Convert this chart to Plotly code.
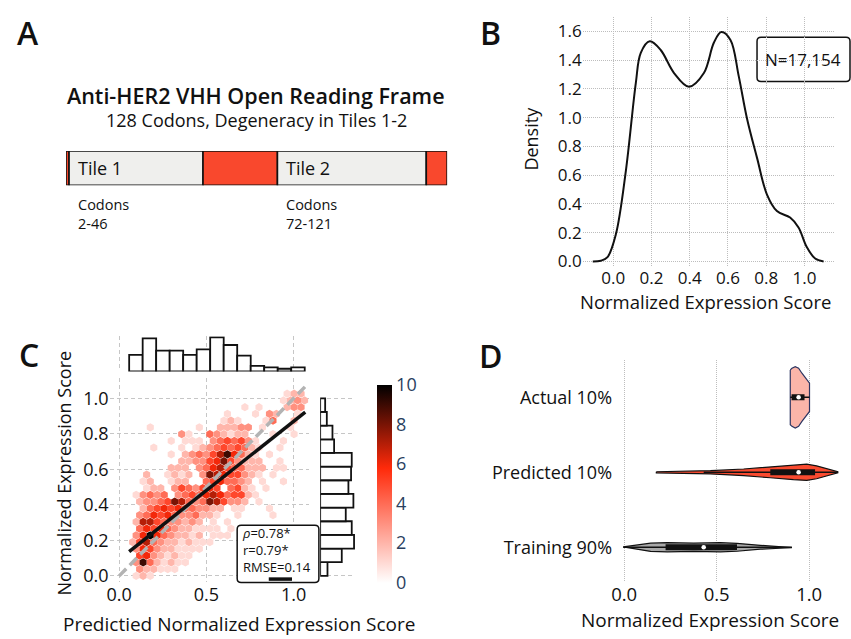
import plotly.graph_objects as go

W, H = 851, 639
def fx(p): return p / W
def fy(p): return 1 - p / H

FONT = "Open Sans"
INK = "#111111"

# ---------------- Panel A data ----------------
seg_start = [0, 1, 46, 71, 121]
seg_end = [1, 46, 71, 121, 128]
seg_color = ["#F9482D", "#EFEFED", "#F9482D", "#EFEFED", "#F9482D"]
tile_names = ["Tile 1", "Tile 2"]
tile_first = [1, 71]
tile_codons = ["2-46", "72-121"]
orf_title = "Anti-HER2 VHH Open Reading Frame"
orf_sub = "128 Codons, Degeneracy in Tiles 1-2"

# ---------------- Panel B data ----------------
kde_x = [-0.107, -0.065, -0.03, 0.014, 0.066, 0.118, 0.144, 0.191, 0.248, 0.318, 0.396,
         0.474, 0.526, 0.565, 0.613, 0.656, 0.70, 0.752, 0.804, 0.856, 0.925, 0.969,
         1.012, 1.056, 1.10]
kde_y = [0.0, 0.005, 0.03, 0.19, 0.63, 1.24, 1.45, 1.53, 1.47, 1.31, 1.215,
         1.31, 1.52, 1.595, 1.54, 1.29, 0.99, 0.72, 0.465, 0.35, 0.305, 0.236,
         0.10, 0.02, 0.0]
n_label = "N=17,154"

# ---------------- Panel C data ----------------
# hexbin rows: (actual score, predicted-score centres, counts)
hex_rows = [
    (0.000, [0.097, 0.137, 0.178], [1, 2, 1]),
    (0.038, [0.117, 0.157, 0.198, 0.238, 0.278, 0.318], [3, 2, 2, 1, 1, 1]),
    (0.076, [0.097, 0.137, 0.178, 0.218, 0.258, 0.298, 0.338, 0.379], [3, 9, 4, 2, 1, 2, 1, 1]),
    (0.114, [0.117, 0.157, 0.198, 0.238, 0.278, 0.318, 0.358, 0.399], [5, 6, 3, 2, 1, 2, 1, 1]),
    (0.152, [0.097, 0.137, 0.178, 0.218, 0.258, 0.298, 0.338, 0.379, 0.419, 0.459],
     [3, 6, 5, 3, 2, 2, 1, 1, 1, 1]),
    (0.190, [0.077, 0.117, 0.157, 0.198, 0.238, 0.278, 0.318, 0.358, 0.399, 0.439, 0.479, 0.519],
     [2, 5, 7, 4, 3, 2, 2, 1, 2, 1, 1, 1]),
    (0.228, [0.097, 0.137, 0.178, 0.218, 0.258, 0.298, 0.338, 0.379, 0.419, 0.459, 0.539, 0.580, 0.620],
     [3, 6, 10, 6, 4, 3, 2, 2, 1, 2, 1, 1, 1]),
    (0.266, [0.117, 0.157, 0.198, 0.238, 0.278, 0.318, 0.358, 0.399, 0.439, 0.479, 0.519, 0.560, 0.640],
     [4, 6, 5, 6, 4, 3, 2, 2, 1, 1, 1, 1, 1]),
    (0.304, [0.097, 0.137, 0.178, 0.218, 0.258, 0.298, 0.338, 0.379, 0.419, 0.459, 0.539, 0.620],
     [2, 7, 7, 5, 4, 3, 3, 2, 3, 2, 1, 1]),
    (0.342, [0.117, 0.157, 0.198, 0.238, 0.278, 0.318, 0.358, 0.399, 0.439, 0.479, 0.519, 0.560, 0.680, 0.881],
     [3, 4, 6, 5, 6, 4, 3, 3, 4, 2, 2, 1, 1, 1]),
    (0.380, [0.137, 0.178, 0.218, 0.258, 0.298, 0.338, 0.379, 0.419, 0.459, 0.499, 0.539, 0.580, 0.660, 0.700, 0.861],
     [2, 4, 5, 6, 5, 6, 4, 4, 3, 3, 2, 2, 1, 1, 1]),
    (0.418, [0.117, 0.157, 0.198, 0.238, 0.278, 0.318, 0.358, 0.399, 0.439, 0.479, 0.519, 0.560, 0.600, 0.640, 0.680, 0.720, 0.801],
     [2, 3, 3, 4, 5, 8, 7, 4, 3, 4, 8, 7, 5, 3, 3, 2, 1]),
    (0.456, [0.097, 0.137, 0.178, 0.218, 0.258, 0.338, 0.379, 0.419, 0.459, 0.499, 0.539, 0.580, 0.620, 0.660, 0.700, 0.740, 0.781],
     [1, 3, 4, 3, 4, 3, 4, 5, 4, 6, 7, 6, 4, 5, 5, 2, 1]),
    (0.494, [0.157, 0.198, 0.238, 0.318, 0.358, 0.399, 0.439, 0.479, 0.519, 0.560, 0.640, 0.680, 0.720, 0.761, 0.841],
     [1, 2, 2, 3, 5, 4, 3, 5, 6, 5, 4, 5, 2, 1, 1]),
    (0.532, [0.137, 0.178, 0.298, 0.338, 0.379, 0.499, 0.539, 0.580, 0.620, 0.660, 0.700, 0.740, 0.821, 0.941],
     [1, 2, 1, 2, 2, 4, 5, 6, 4, 4, 3, 2, 1, 1]),
    (0.570, [0.157, 0.278, 0.318, 0.358, 0.399, 0.479, 0.519, 0.560, 0.600, 0.640, 0.680, 0.720, 0.761, 0.801, 0.881],
     [2, 1, 2, 1, 2, 3, 8, 7, 6, 5, 5, 3, 2, 1, 1]),
    (0.608, [0.298, 0.338, 0.379, 0.459, 0.499, 0.539, 0.580, 0.620, 0.660, 0.700, 0.740, 0.781, 0.821, 0.901, 0.941],
     [2, 2, 2, 3, 4, 6, 7, 5, 4, 4, 2, 2, 2, 1, 1]),
    (0.646, [0.358, 0.399, 0.439, 0.479, 0.519, 0.560, 0.600, 0.640, 0.680, 0.720, 0.761, 0.801, 0.921],
     [2, 2, 3, 3, 5, 6, 8, 5, 3, 2, 2, 2, 1]),
    (0.684, [0.298, 0.379, 0.419, 0.459, 0.499, 0.539, 0.580, 0.620, 0.660, 0.700, 0.740, 0.781, 0.861],
     [1, 2, 3, 4, 3, 5, 7, 9, 6, 4, 2, 1, 1]),
    (0.722, [0.198, 0.358, 0.439, 0.479, 0.519, 0.560, 0.600, 0.640, 0.680, 0.720, 0.761, 0.801, 0.921],
     [1, 1, 1, 2, 3, 4, 5, 4, 5, 4, 2, 1, 1]),
    (0.760, [0.298, 0.379, 0.419, 0.459, 0.539, 0.580, 0.620, 0.660, 0.700, 0.740, 0.781, 0.941],
     [1, 1, 1, 1, 3, 4, 5, 4, 5, 3, 1, 1]),
    (0.798, [0.358, 0.399, 0.519, 0.560, 0.600, 0.640, 0.680, 0.720, 0.881, 1.002],
     [3, 1, 4, 3, 2, 1, 2, 2, 1, 1]),
    (0.836, [0.178, 0.459, 0.580, 0.620, 0.660, 0.700, 0.740, 0.821, 0.982],
     [1, 1, 2, 2, 2, 3, 3, 1, 1]),
    (0.874, [0.600, 0.640, 0.680, 0.841, 0.881, 1.002], [1, 2, 1, 1, 4, 2]),
    (0.912, [0.620, 0.781, 0.861, 0.901, 1.022], [1, 1, 3, 2, 1]),
    (0.950, [0.720, 0.801, 0.962, 1.002, 1.042], [1, 1, 2, 3, 3]),
    (0.988, [0.941, 0.982, 1.022, 1.062], [1, 2, 3, 2]),
    (1.026, [0.962, 1.002, 1.042], [1, 2, 2]),
]
fit_x = [0.057, 1.066]
fit_y = [0.137, 0.922]
ident_xy = [0.0, 1.07]
top_hist_lo, top_hist_hi = 0.057, 1.063
top_hist_counts = [50, 100, 63, 63, 50, 67, 103, 80, 48, 17, 12, 8, 12]
right_hist_lo, right_hist_hi = 0.0, 1.0
right_hist_counts = [22, 65, 102, 95, 77, 100, 85, 93, 95, 42, 37, 20, 15]
stats_lines = ["<i>ρ</i>=0.78*", "r=0.79*", "RMSE=0.14"]

# ---------------- Panel D data ----------------
violin_names = ["Training 90%", "Predicted 10%", "Actual 10%"]
violin_fill = ["#A9A9A9", "#F94A2F", "#FBB5A9"]
violin_edge = ["#111111", "#111111", "#2D3561"]
train_x = [-0.005, 0.071, 0.143, 0.233, 0.377, 0.52, 0.61, 0.736, 0.843, 0.907]
train_hw = [0.004, 0.029, 0.055, 0.061, 0.054, 0.061, 0.053, 0.026, 0.013, 0.004]
pred_x = [0.174, 0.30, 0.467, 0.646, 0.79, 0.915, 0.987, 1.04, 1.096, 1.155]
pred_hw = [0.007, 0.011, 0.022, 0.044, 0.073, 0.099, 0.108, 0.086, 0.05, 0.007]
act_x = [0.898, 0.907, 0.925, 0.943, 0.961, 0.987, 1.002]
act_hw = [0.365, 0.387, 0.409, 0.387, 0.321, 0.234, 0.189]
box_q1 = [0.224, 0.79, 0.905]
box_q3 = [0.61, 1.032, 0.975]
box_med = [0.43, 0.943, 0.943]
whisk_lo = [-0.005, 0.43, 0.898]
whisk_hi = [0.907, 1.155, 1.002]

# ======================================================
fig = go.Figure()

# Panel A bars
fig.add_trace(go.Bar(
    orientation="h", y=[0] * len(seg_start),
    x=[e - s for s, e in zip(seg_start, seg_end)], base=seg_start,
    width=1, marker=dict(color=seg_color, line=dict(color=INK, width=1.6)),
    xaxis="x6", yaxis="y6", showlegend=False, hoverinfo="skip"))

# Panel B KDE
fig.add_trace(go.Scatter(x=kde_x, y=kde_y, mode="lines", line=dict(color=INK, width=2, shape="spline"),
                         xaxis="x", yaxis="y", showlegend=False))

# Panel C hexbin
hx, hy, hn = [], [], []
for yv, xs, ns in hex_rows:
    for xv, n in zip(xs, ns):
        hx.append(xv); hy.append(yv); hn.append(n)
fig.add_trace(go.Scatter(
    x=hx, y=hy, mode="markers", xaxis="x2", yaxis="y2", showlegend=False,
    marker=dict(symbol="hexagon", size=8.2, color=hn, cmin=0, cmax=10,
                colorscale=[[0, "#ffffff"], [0.58, "#ff2a0a"], [1, "#000000"]],
                line=dict(width=0), showscale=True,
                colorbar=dict(x=fx(375), xanchor="left", y=fy(489), yanchor="middle",
                              len=200 / H, lenmode="fraction", thickness=15, outlinewidth=0,
                              tickvals=[0, 2, 4, 6, 8, 10], ticks="", xpad=0, ypad=0,
                              tickfont=dict(family=FONT, size=18, color="#2a3f5f")))))
fig.add_trace(go.Scatter(x=ident_xy, y=ident_xy, mode="lines", xaxis="x2", yaxis="y2",
                         line=dict(color="#b3b3b3", width=3.5, dash="10px,5px"), showlegend=False))
fig.add_trace(go.Scatter(x=fit_x, y=fit_y, mode="lines", xaxis="x2", yaxis="y2",
                         line=dict(color=INK, width=3.5), showlegend=False))

tw = (top_hist_hi - top_hist_lo) / len(top_hist_counts)
fig.add_trace(go.Bar(x=[top_hist_lo + (i + 0.5) * tw for i in range(len(top_hist_counts))],
                     y=top_hist_counts, width=tw, xaxis="x3", yaxis="y3", showlegend=False,
                     marker=dict(color="white", line=dict(color=INK, width=1.8))))
rw = (right_hist_hi - right_hist_lo) / len(right_hist_counts)
fig.add_trace(go.Bar(y=[right_hist_lo + (i + 0.5) * rw for i in range(len(right_hist_counts))],
                     x=right_hist_counts, width=rw, orientation="h", xaxis="x4", yaxis="y4",
                     showlegend=False, marker=dict(color="white", line=dict(color=INK, width=1.8))))

# Panel D violins
profiles = [(train_x, train_hw), (pred_x, pred_hw), (act_x, act_hw)]
for i, (vx, vh) in enumerate(profiles):
    xs = list(vx) + list(reversed(vx))
    ys = [i + h for h in vh] + [i - h for h in reversed(vh)]
    fig.add_trace(go.Scatter(x=xs + [xs[0]], y=ys + [ys[0]], mode="lines", fill="toself",
                             fillcolor=violin_fill[i], line=dict(color=violin_edge[i], width=1.2),
                             xaxis="x5", yaxis="y5", showlegend=False))
for i in range(3):
    fig.add_trace(go.Scatter(x=[whisk_lo[i], whisk_hi[i]], y=[i, i], mode="lines",
                             line=dict(color=INK, width=1.6), xaxis="x5", yaxis="y5", showlegend=False))
    fig.add_trace(go.Scatter(x=[box_q1[i], box_q3[i]], y=[i, i], mode="lines",
                             line=dict(color=INK, width=6), xaxis="x5", yaxis="y5", showlegend=False))
fig.add_trace(go.Scatter(x=box_med, y=[0, 1, 2], mode="markers",
                         marker=dict(color="white", size=4.5, line=dict(width=0)),
                         xaxis="x5", yaxis="y5", showlegend=False))

# ---------------- axes ----------------
def tf(size):
    return dict(family=FONT, size=size, color=INK)

base = dict(showline=False, zeroline=False, ticks="")
dotgrid = dict(showgrid=True, gridcolor="#bdbdbd", griddash="1px,1px", gridwidth=1)
dashgrid = dict(showgrid=True, gridcolor="#c6c6c6", griddash="4px,3px", gridwidth=1)

layout = dict(
    width=W, height=H, margin=dict(l=0, r=0, t=0, b=0),
    paper_bgcolor="white", plot_bgcolor="white", barmode="overlay",
    # B
    xaxis=dict(domain=[fx(581.7), fx(835)], range=[-0.16, 1.16], tick0=0, dtick=0.2,
               tickformat=".1f", tickfont=tf(17), **base, **dotgrid),
    yaxis=dict(domain=[fy(268.7), fy(17.1)], range=[-0.03, 1.7], tick0=0, dtick=0.2,
               tickformat=".1f", tickfont=tf(17), **base, **dotgrid),
    # C main
    xaxis2=dict(domain=[fx(107), fx(307)], range=[-0.055, 1.087], tickvals=[0, 0.5, 1.0],
                tickformat=".1f", tickfont=tf(18), anchor="y2", **base, **dashgrid),
    yaxis2=dict(domain=[fy(588), fy(381.7)], range=[-0.032, 1.117], tick0=0, dtick=0.2,
                tickformat=".1f", tickfont=tf(18), anchor="x2", **base, **dashgrid),
    # C top hist
    xaxis3=dict(domain=[fx(107), fx(307)], matches="x2", anchor="y3", showticklabels=False,
                tickvals=[0, 0.5, 1.0], **base, **dashgrid),
    yaxis3=dict(domain=[fy(375.5), fy(340)], range=[0, 106.5], anchor="x3", showticklabels=False,
                showgrid=False, **base),
    # C right hist
    xaxis4=dict(domain=[fx(318.3), fx(353.3)], range=[0, 105], anchor="y4", showticklabels=False,
                showgrid=False, **base),
    yaxis4=dict(domain=[fy(588), fy(381.7)], matches="y2", anchor="x4", showticklabels=False,
                tick0=0, dtick=0.2, **base, **dashgrid),
    # D
    xaxis5=dict(domain=[fx(612.2), fx(840)], range=[-0.06, 1.167], tickvals=[0, 0.5, 1.0],
                tickformat=".1f", tickfont=tf(18.5), anchor="y5", **base, **dotgrid),
    yaxis5=dict(domain=[fy(588.2), fy(363.8)], range=[-0.46, 2.5], tickvals=[0, 1, 2],
                ticktext=violin_names, tickfont=tf(18), anchor="x5", showgrid=False, **base),
    # A
    xaxis6=dict(domain=[fx(63.3), fx(445.7)], range=[0, 128], anchor="y6", visible=False),
    yaxis6=dict(domain=[fy(187.3), fy(152.7)], range=[-0.5, 0.5], anchor="x6", visible=False),
)
fig.update_layout(**layout)

# ---------------- text ----------------
ann = []
def txt(x, y, s, size, weight=None, **kw):
    f = tf(size)
    if weight:
        f["weight"] = weight
    d = dict(xref="paper", yref="paper", x=fx(x), y=fy(y), text=s, showarrow=False, font=f,
             xanchor="center", yanchor="middle")
    d.update(kw)
    ann.append(d)

# panel letters
txt(25, 33, "A", 32, weight=600)
txt(489, 33, "B", 32, weight=600)
txt(26, 358, "C", 32, weight=600)
txt(489.5, 359.5, "D", 32, weight=600)

# A text
txt(254, 96.7, orf_title, 21.5, weight=600)
txt(254, 121.7, orf_sub, 18)
for i in range(2):
    ann.append(dict(xref="x6", yref="paper", x=tile_first[i], y=fy(170), text=tile_names[i],
                    showarrow=False, xanchor="left", yanchor="middle", xshift=7, font=tf(18)))
    ann.append(dict(xref="x6", yref="paper", x=tile_first[i], y=fy(195), text="Codons<br>" + tile_codons[i],
                    showarrow=False, xanchor="left", yanchor="top", xshift=7, align="left", font=tf(14.5)))

# B text
txt(530, 140, "Density", 18, textangle=-90)
txt(705, 305, "Normalized Expression Score", 18.5)
txt(803.3, 60, n_label, 17)

# C text
txt(61, 478, "Normalized Expression Score", 18, textangle=-90)
txt(237, 631, "Predictied Normalized Expression Score", 19)
txt(237.5, 556, "<br>".join(stats_lines), 13, xanchor="left", align="left")

# D text
txt(710, 626.7, "Normalized Expression Score", 19)

fig.update_layout(annotations=ann)

# ---------------- boxes ----------------
def rrect(x0, y0, x1, y1, r):
    X = lambda p: fx(p)
    Y = lambda p: fy(p)
    return (f"M {X(x0 + r)} {Y(y0)} L {X(x1 - r)} {Y(y0)} Q {X(x1)} {Y(y0)} {X(x1)} {Y(y0 + r)} "
            f"L {X(x1)} {Y(y1 - r)} Q {X(x1)} {Y(y1)} {X(x1 - r)} {Y(y1)} "
            f"L {X(x0 + r)} {Y(y1)} Q {X(x0)} {Y(y1)} {X(x0)} {Y(y1 - r)} "
            f"L {X(x0)} {Y(y0 + r)} Q {X(x0)} {Y(y0)} {X(x0 + r)} {Y(y0)} Z")

shapes = [
    dict(type="path", xref="paper", yref="paper", path=rrect(756.7, 37.7, 850, 82.3, 4),
         line=dict(color=INK, width=1.5), fillcolor="rgba(255,255,255,0)", layer="below"),
    dict(type="path", xref="paper", yref="paper", path=rrect(235, 531, 317, 589, 4),
         line=dict(color=INK, width=1.5), fillcolor="white", layer="above"),
    dict(type="line", xref="paper", yref="paper", x0=fx(266.7), x1=fx(290), y0=fy(585.5), y1=fy(585.5),
         line=dict(color=INK, width=3.5)),
]
fig.update_layout(shapes=shapes)

fig.write_html("out.html")
